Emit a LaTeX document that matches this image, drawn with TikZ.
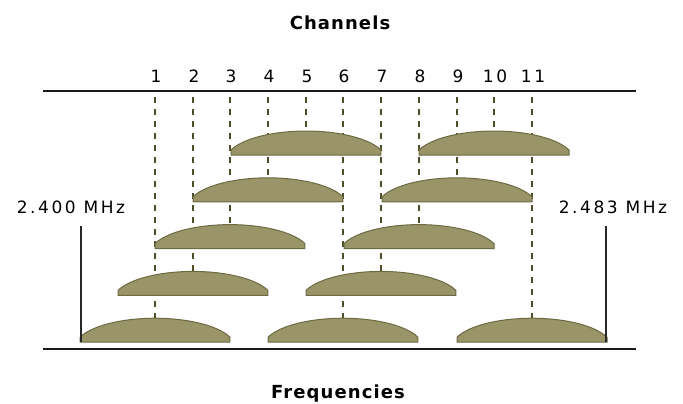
\documentclass[tikz,border=0pt]{standalone}
\usepackage{fontspec}
\usetikzlibrary{calc}
\newfontfamily\lblfont[LetterSpace=15]{DejaVu Sans}
\newfontfamily\headfont[LetterSpace=6]{DejaVu Sans}
\definecolor{axisgray}{RGB}{26,26,26}
\definecolor{edgegray}{RGB}{40,40,40}
\definecolor{dashcol}{RGB}{80,78,40}
\definecolor{domefill}{RGB}{153,149,104}
\definecolor{domeline}{RGB}{108,106,66}
\begin{document}
\begin{tikzpicture}[x=1pt,y=-1pt,
  axisline/.style={line width=2pt, draw=axisgray},
  chanline/.style={dash pattern=on 6pt off 6pt, line width=2pt, draw=dashcol},
  bandedge/.style={line width=1.6pt, draw=edgegray},
  dome/.style={fill=domefill, draw=domeline, line width=1pt},
  chnum/.style={font=\lblfont\fontsize{17}{17}\selectfont, anchor=base, inner sep=0pt},
  title/.style={font=\headfont\bfseries\fontsize{18}{18}\selectfont, anchor=base, inner sep=0pt}]
\useasboundingbox (0,0) rectangle (683,404);

% headings
\node[title] (channels) at (340,29.5) {Channels};
\node[title] (frequencies) at (338,398) {Frequencies};

% horizontal rules
\coordinate (tl) at (43,91);
\coordinate (tr) at (636,91);
\coordinate (bl) at (43,349);
\coordinate (br) at (636,349);

% channel numbers, centre markers and dome apexes
\foreach \k in {1,...,11} {
  \pgfmathtruncatemacro\cx{round(155+(\k-1)*37.7)}
  \pgfmathtruncatemacro\row{5-mod(\k-1,5)}
  \pgfmathsetmacro\apex{131+(\row-1)*46.8}
  \node[chnum] (n\k) at (\cx+1,82) {\k};
  \coordinate (t\k) at (\cx,97);
  \coordinate (a\k) at (\cx,\apex);
  \draw[chanline] (t\k) -- (a\k);
}

% spectral masks of the channels: a truncated half-ellipse on a flat base
\foreach \k in {1,...,11} {
  \path[dome] ($(a\k)+(-75,24)$) -- ++(0,-5)
    arc[start angle=159.64, end angle=20.36, x radius=80pt, y radius=29.1pt]
    -- ++(0,5) -- cycle;
}

% band limits
\coordinate (lowtop) at (81,226);
\coordinate (lowbot) at (81,342);
\coordinate (hightop) at (606,226);
\coordinate (highbot) at (606,342);
\draw[bandedge] (lowtop) -- (lowbot);
\draw[bandedge] (hightop) -- (highbot);
\node[chnum] (fmin) at (71,213) {2.400 MHz};
\node[chnum] (fmax) at (613,213) {2.483 MHz};

\draw[axisline] (tl) -- (tr);
\draw[axisline] (bl) -- (br);
\end{tikzpicture}
\end{document}
